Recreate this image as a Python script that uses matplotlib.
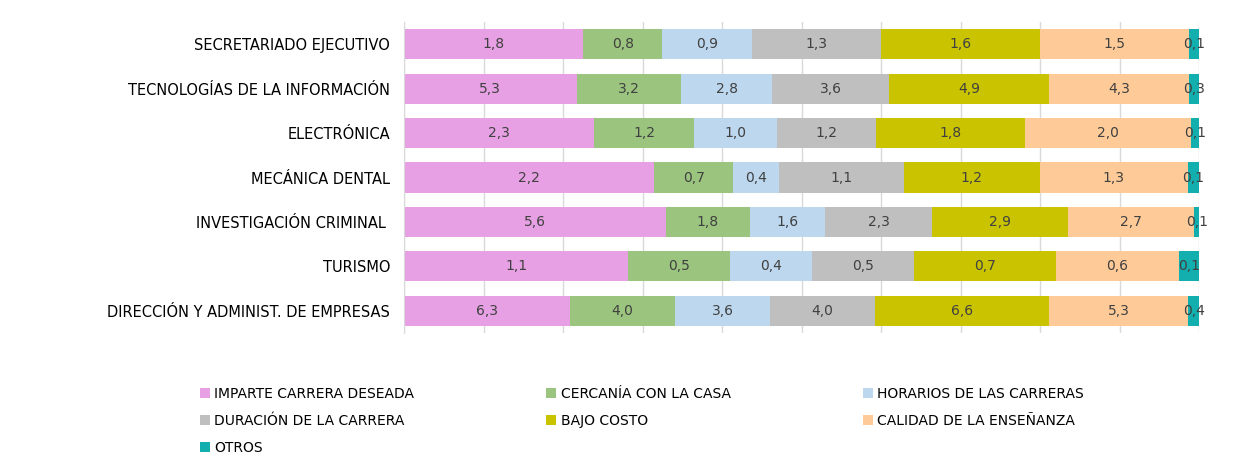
import numpy as np
from matplotlib import pyplot as plt

carreras = ["SECRETARIADO EJECUTIVO", "TECNOLOGÍAS DE LA INFORMACIÓN", "ELECTRÓNICA",
            "MECÁNICA DENTAL", "INVESTIGACIÓN CRIMINAL ", "TURISMO",
            "DIRECCIÓN Y ADMINIST. DE EMPRESAS"]
motivos = ["IMPARTE CARRERA DESEADA", "CERCANÍA CON LA CASA", "HORARIOS DE LAS CARRERAS",
           "DURACIÓN DE LA CARRERA", "BAJO COSTO", "CALIDAD DE LA ENSEÑANZA", "OTROS"]
colores = ["#E6A0E3", "#9BC57F", "#BDD7EE", "#BFBFBF", "#C9C300", "#FECB98", "#13AFAF"]

# valores por motivo (en el orden de carreras)
imparte = [1.8, 5.3, 2.3, 2.2, 5.6, 1.1, 6.3]
cercania = [0.8, 3.2, 1.2, 0.7, 1.8, 0.5, 4.0]
horarios = [0.9, 2.8, 1.0, 0.4, 1.6, 0.4, 3.6]
duracion = [1.3, 3.6, 1.2, 1.1, 2.3, 0.5, 4.0]
costo = [1.6, 4.9, 1.8, 1.2, 2.9, 0.7, 6.6]
calidad = [1.5, 4.3, 2.0, 1.3, 2.7, 0.6, 5.3]
otros = [0.1, 0.3, 0.1, 0.1, 0.1, 0.1, 0.4]

datos = np.array([imparte, cercania, horarios, duracion, costo, calidad, otros])
totales = datos.sum(axis=0)
pct = datos / totales * 100

fig = plt.figure(figsize=(12.39, 4.72), dpi=100)
ax = fig.add_axes([404/1239, 1 - 333/472, (1199-404)/1239, (333-22)/472])

y = np.arange(len(carreras))
izq = np.zeros(len(carreras))
for i in range(len(motivos)):
    ax.barh(y, pct[i], left=izq, height=0.68, color=colores[i], label=motivos[i], zorder=2)
    for j in range(len(carreras)):
        ax.text(izq[j] + pct[i][j] / 2, y[j], f"{datos[i][j]:.1f}".replace(".", ","),
                ha="center", va="center", fontsize=10, color="#404040", zorder=3)
    izq += pct[i]

ax.set_xlim(0, 100)
ax.set_ylim(len(carreras) - 0.5, -0.5)
ax.set_yticks(y)
ax.set_yticklabels(carreras, fontsize=10.5, color="#000000")
ax.set_xticks(np.arange(0, 101, 10))
ax.set_xticklabels([])
ax.tick_params(axis="both", length=0)
ax.tick_params(axis="y", pad=10)
ax.grid(axis="x", color="#D9D9D9", linewidth=1, zorder=0)
for s in ["top", "right", "bottom"]:
    ax.spines[s].set_visible(False)
ax.spines["left"].set_color("#D9D9D9")

# leyenda en orden por filas
h, l = ax.get_legend_handles_labels()
orden = [0, 3, 6, 1, 4, 2, 5]
fig.legend([h[k] for k in orden], [l[k] for k in orden],
           loc="upper left", bbox_to_anchor=(187/1239, 1 - 374/472), ncol=3, frameon=False,
           fontsize=10, handlelength=0.75, handleheight=0.75, handletextpad=0.3,
           columnspacing=9.5, labelspacing=0.95)

fig.savefig("out.png", dpi=100)
